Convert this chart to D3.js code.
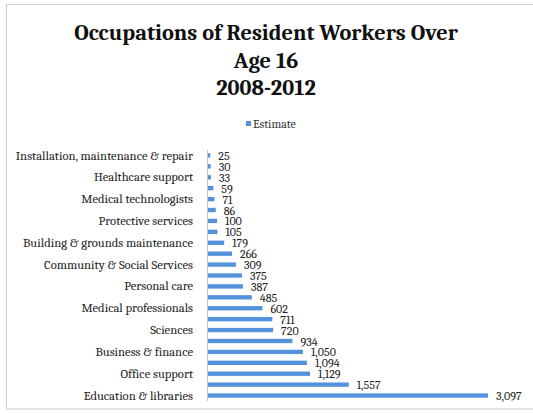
<!DOCTYPE html>
<html>
<head>
<meta charset="utf-8">
<script src="https://cdn.jsdelivr.net/npm/d3@7"></script>
<style>
  html, body { margin: 0; padding: 0; background: #fff; }
  svg { display: block; }
</style>
</head>
<body>
<svg id="chart" width="533" height="413"></svg>
<script>
// Category labels (only every other one is printed on the axis in the original)
const categories = [
  "Installation, maintenance & repair", "",
  "Healthcare support", "",
  "Medical technologists", "",
  "Protective services", "",
  "Building & grounds maintenance", "",
  "Community & Social Services", "",
  "Personal care", "",
  "Medical professionals", "",
  "Sciences", "",
  "Business & finance", "",
  "Office support", "",
  "Education & libraries"
];
const estimates = [25, 30, 33, 59, 71, 86, 100, 105, 179, 266, 309, 375, 387, 485, 602, 711, 720, 934, 1050, 1094, 1129, 1557, 3097];
const titleLines = ["Occupations of Resident Workers Over", "Age 16", "2008-2012"];
const seriesName = "Estimate";

const serif = "Cambria, 'Liberation Serif', 'DejaVu Serif', serif";
const barColor = "#5592dc";

const svg = d3.select("#chart");

// chart frame (open on the right, as in the scan)
svg.append("rect")
  .attr("x", 6.5).attr("y", 4.5).attr("width", 540).attr("height", 404.5)
  .attr("fill", "none").attr("stroke", "#cfcfcf").attr("stroke-width", 1);

// Title
svg.append("g").selectAll("text").data(titleLines).join("text")
  .attr("x", 266).attr("y", (d, i) => 40 + i * 27.5)
  .attr("text-anchor", "middle")
  .attr("font-family", serif).attr("font-weight", "bold").attr("font-size", 22.4)
  .attr("fill", "#111")
  .text(d => d);

// Legend
const legend = svg.append("g");
legend.append("rect").attr("x", 246).attr("y", 121).attr("width", 5).attr("height", 5).attr("fill", barColor);
legend.append("text").attr("x", 253).attr("y", 128)
  .attr("font-family", serif).attr("font-size", 12).attr("fill", "#333").text(seriesName);

// Scales
const idx = d3.range(categories.length);
const y = d3.scaleBand().domain(idx).range([150, 401]).paddingInner(0.6).paddingOuter(0.3);
const x = d3.scaleLinear().domain([0, 3500]).range([207, 207 + 3500 * (280 / 3097)]);

// Category axis
const yAxis = svg.append("g").attr("transform", `translate(${x(0)},0)`)
  .call(d3.axisLeft(y).tickSize(0).tickPadding(14).tickFormat(i => categories[i]));
yAxis.select(".domain").attr("stroke", "#c4c4c4").attr("d", `M0.5,150V401`);
yAxis.selectAll("text")
  .attr("font-family", serif).attr("font-size", 12.6).attr("fill", "#222");

// Bars
svg.append("g").selectAll("rect").data(estimates).join("rect")
  .attr("x", x(0) + 1)
  .attr("y", (d, i) => y(i))
  .attr("width", d => x(d) - x(0))
  .attr("height", y.bandwidth())
  .attr("fill", barColor);

// Value labels
const fmt = d3.format(",");
svg.append("g").selectAll("text").data(estimates).join("text")
  .attr("x", d => x(d) + 9)
  .attr("y", (d, i) => y(i) + y.bandwidth() / 2)
  .attr("dy", "0.38em")
  .attr("font-family", serif).attr("font-size", 12).attr("fill", "#222")
  .text(d => fmt(d));
</script>
</body>
</html>
